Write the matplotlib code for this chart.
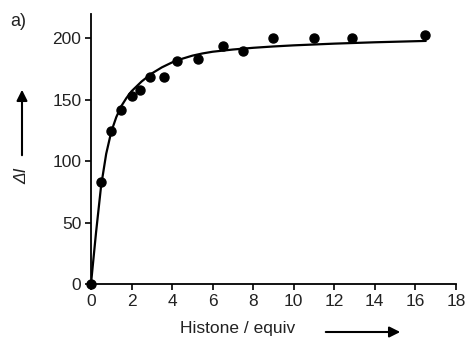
import matplotlib
matplotlib.use("Agg")
import matplotlib.pyplot as plt

# measured points
histone = [0, 0.5, 1.0, 1.5, 2.0, 2.4, 2.9, 3.6, 4.25, 5.3, 6.5, 7.5, 9.0, 11.0, 12.9, 16.5]
delta_i = [0, 83, 125, 142, 153, 158, 169, 169, 182, 183, 194, 190, 200, 200, 200, 203]

# fitted curve
fit_x = [0, 0.25, 0.5, 0.75, 1.0, 1.25, 1.5, 1.75, 2.0, 2.5, 3.0, 3.5, 4.0, 4.5, 5.0, 5.5, 6.0,
         7.0, 8.0, 9.0, 10.0, 12.0, 14.0, 16.5]
fit_y = [0, 42, 80, 106, 124, 136, 145, 151.5, 157, 165, 171.5, 176.5, 180.5, 183.5, 186, 187.8, 189.2,
         191, 192.4, 193.5, 194.4, 195.8, 196.9, 198]

x_ticks = [0, 2, 4, 6, 8, 10, 12, 14, 16, 18]
y_ticks = [0, 50, 100, 150, 200]

plt.rcParams['font.family'] = ['Liberation Sans', 'DejaVu Sans']

fig = plt.figure(figsize=(4.69, 3.4), dpi=100)
ax = fig.add_axes([0.194, 0.165, 0.778, 0.794])

ax.plot(fit_x, fit_y, color='black', lw=1.6, zorder=2)
ax.plot(histone, delta_i, 'o', color='black', ms=6.5, zorder=3, clip_on=False)

ax.set_xlim(0, 18)
ax.set_ylim(0, 220)
ax.set_xticks(x_ticks)
ax.set_yticks(y_ticks)
for s in ['top', 'right']:
    ax.spines[s].set_visible(False)
for s in ['left', 'bottom']:
    ax.spines[s].set_linewidth(1.3)
ax.tick_params(direction='out', length=4, width=1.2, labelsize=12.5, colors='black',
               labelcolor='#222222', pad=3)

# axis labels with arrows
fig.text(238 / 469, 1 - 329 / 340, "Histone / equiv", ha='center', va='center', fontsize=12.5, color='#222222')
fig.add_artist(matplotlib.patches.FancyArrowPatch((323 / 469, 1 - 332 / 340), (403 / 469, 1 - 332 / 340),
                                                  transform=fig.transFigure, arrowstyle='-|>', mutation_scale=16,
                                                  color='black', lw=1.5))
fig.text(22 / 469, 1 - 176 / 340, "ΔI", ha='center', va='center', rotation=90, fontsize=12.5,
         style='italic', color='#222222')
fig.add_artist(matplotlib.patches.FancyArrowPatch((22 / 469, 1 - 158 / 340), (22 / 469, 1 - 87 / 340),
                                                  transform=fig.transFigure, arrowstyle='-|>', mutation_scale=16,
                                                  color='black', lw=1.5))
fig.text(18 / 469, 1 - 22 / 340, "a)", ha='center', va='center', fontsize=13, color='#222222')

fig.savefig("out.png", dpi=100)
